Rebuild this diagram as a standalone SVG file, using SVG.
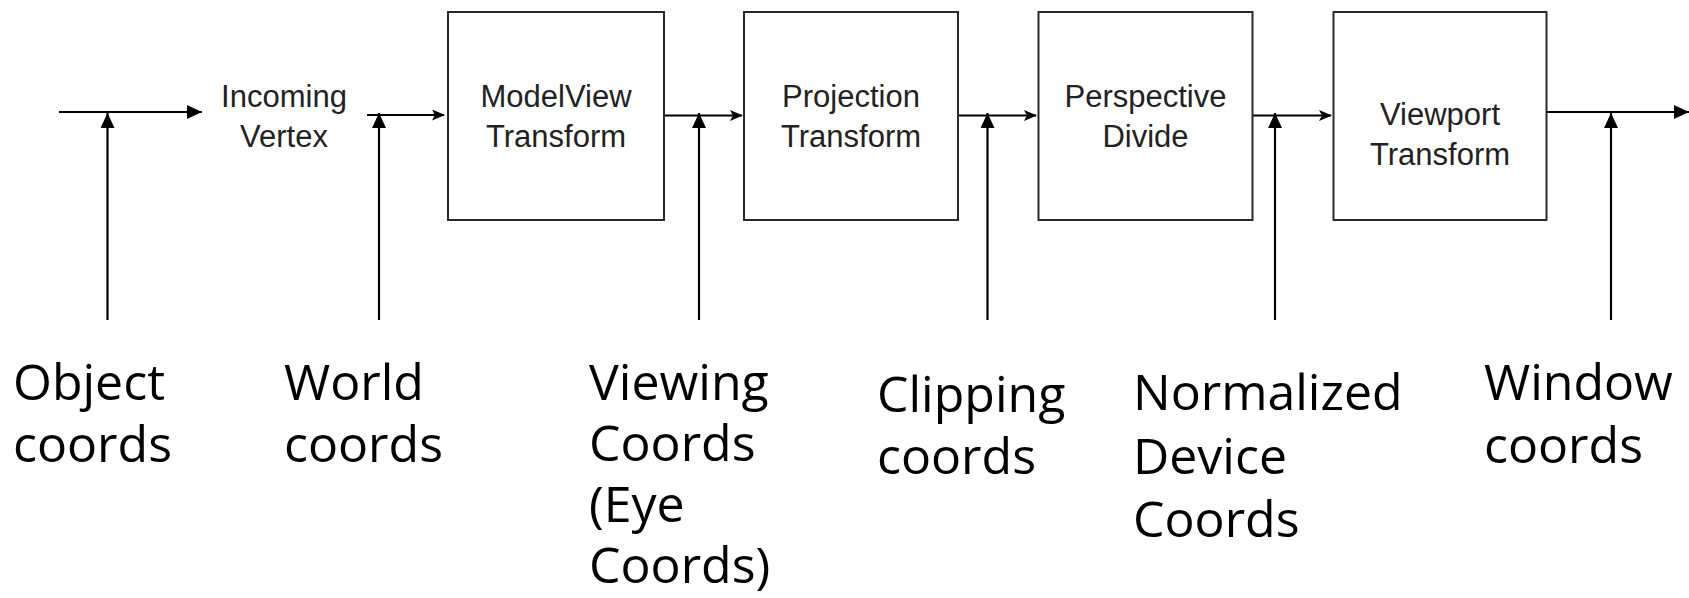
<svg xmlns="http://www.w3.org/2000/svg" width="1689" height="598" viewBox="0 0 1689 598">
<style>
.box{fill:#fff;stroke:#2a2a2a;stroke-width:2}
.ln{stroke:#000;stroke-width:2.2;fill:none}
.t{font-family:"Liberation Sans",Arial,sans-serif;font-size:31px;fill:#222;text-anchor:middle}
.lbl{font-family:"Open Sans","Noto Sans",sans-serif;font-size:50px;fill:#000}
</style>
<defs>
<marker id="big" markerUnits="userSpaceOnUse" viewBox="0 0 15 14" refX="15" refY="7" markerWidth="15" markerHeight="14" orient="auto">
<path d="M0,0 L15,7 L0,14 z" fill="#000"/>
</marker>
<marker id="up" markerUnits="userSpaceOnUse" viewBox="0 0 15 14" refX="15" refY="7" markerWidth="15" markerHeight="14" orient="auto">
<path d="M0,0 L15,7 L0,14 z" fill="#000"/>
</marker>
<marker id="small" markerUnits="userSpaceOnUse" viewBox="0 0 13 11" refX="12" refY="5.5" markerWidth="13" markerHeight="11" orient="auto">
<path d="M0,0 L13,5.5 L0,11 L3,5.5 z" fill="#000"/>
</marker>
</defs>
<rect width="1689" height="598" fill="#fff"/>

<g id="connectors">
<line class="ln" x1="59" y1="112" x2="202" y2="112" marker-end="url(#big)"/>
<line class="ln" x1="367" y1="115" x2="444" y2="115" marker-end="url(#small)"/>
<line class="ln" x1="664" y1="115.5" x2="742" y2="115.5" marker-end="url(#small)"/>
<line class="ln" x1="958" y1="115.5" x2="1036" y2="115.5" marker-end="url(#small)"/>
<line class="ln" x1="1253" y1="115.5" x2="1331" y2="115.5" marker-end="url(#small)"/>
<line class="ln" x1="1547" y1="112" x2="1689" y2="112" marker-end="url(#big)"/>
<line class="ln" x1="107.5" y1="320" x2="107.5" y2="113" marker-end="url(#up)"/>
<line class="ln" x1="379" y1="320" x2="379" y2="113" marker-end="url(#up)"/>
<line class="ln" x1="699" y1="320" x2="699" y2="113" marker-end="url(#up)"/>
<line class="ln" x1="987.5" y1="320" x2="987.5" y2="113" marker-end="url(#up)"/>
<line class="ln" x1="1275" y1="320" x2="1275" y2="113" marker-end="url(#up)"/>
<line class="ln" x1="1611" y1="320" x2="1611" y2="113" marker-end="url(#up)"/>
</g>

<g id="incoming">
<text class="t" x="284" y="107">Incoming</text>
<text class="t" x="284" y="147">Vertex</text>
</g>
<g id="modelview">
<rect class="box" x="448" y="12" width="216" height="208"/>
<text class="t" x="556" y="107">ModelView</text>
<text class="t" x="556" y="147">Transform</text>
</g>
<g id="projection">
<rect class="box" x="744" y="12" width="214" height="208"/>
<text class="t" x="851" y="107">Projection</text>
<text class="t" x="851" y="147">Transform</text>
</g>
<g id="perspective">
<rect class="box" x="1038.5" y="12" width="214" height="208"/>
<text class="t" x="1145.5" y="107">Perspective</text>
<text class="t" x="1145.5" y="147">Divide</text>
</g>
<g id="viewport">
<rect class="box" x="1333.5" y="12" width="213" height="208"/>
<text class="t" x="1440" y="125">Viewport</text>
<text class="t" x="1440" y="165">Transform</text>
</g>

<g id="object-coords">
<text class="lbl" x="13" y="400">Object</text>
<text class="lbl" x="13" y="462">coords</text>
</g>
<g id="world-coords">
<text class="lbl" x="284" y="400">World</text>
<text class="lbl" x="284" y="462">coords</text>
</g>
<g id="viewing-coords">
<text class="lbl" x="589" y="400">Viewing</text>
<text class="lbl" x="589" y="461">Coords</text>
<text class="lbl" x="589" y="522">(Eye</text>
<text class="lbl" x="589" y="583">Coords)</text>
</g>
<g id="clipping-coords">
<text class="lbl" x="877" y="412">Clipping</text>
<text class="lbl" x="877" y="474">coords</text>
</g>
<g id="ndc">
<text class="lbl" x="1133" y="410">Normalized</text>
<text class="lbl" x="1133" y="474">Device</text>
<text class="lbl" x="1133" y="537">Coords</text>
</g>
<g id="window-coords">
<text class="lbl" x="1484" y="400">Window</text>
<text class="lbl" x="1484" y="463">coords</text>
</g>
</svg>
